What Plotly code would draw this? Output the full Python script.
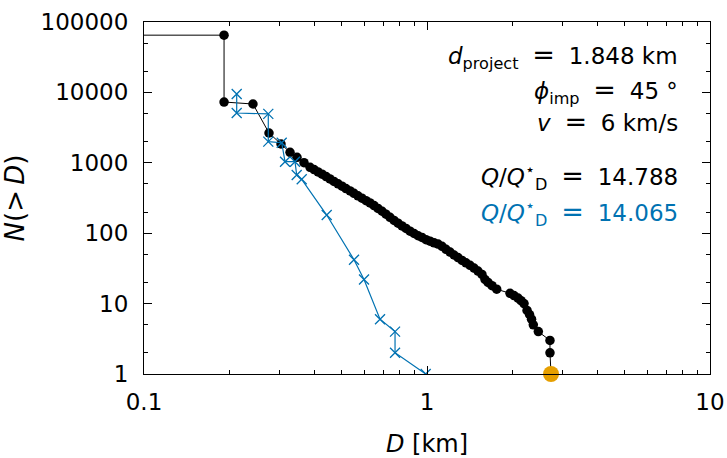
import plotly.graph_objects as go

# Cumulative size distribution N(>D) of the fragments, two runs
d_black = [0.08, 0.1918, 0.1918, 0.2427, 0.2765, 0.3049, 0.3281, 0.3472, 0.3676, 0.3861,
           0.399, 0.412, 0.426, 0.440, 0.454, 0.469, 0.485, 0.501, 0.517, 0.535,
           0.552, 0.570, 0.589, 0.609, 0.629, 0.650, 0.671, 0.694, 0.716, 0.740,
           0.765, 0.790, 0.816, 0.843, 0.871, 0.900, 0.930, 0.960, 0.992, 1.025,
           1.059, 1.094, 1.130, 1.167, 1.206, 1.246, 1.287, 1.330, 1.373, 1.419,
           1.466, 1.514, 1.564, 1.603, 1.643, 1.697, 1.763, 1.965, 2.030, 2.097,
           2.149, 2.202, 2.257, 2.303, 2.341, 2.375, 2.474, 2.720, 2.720, 2.743]
n_black = [65000, 65000, 7300, 6840, 2650, 1850, 1410, 1197, 1004, 863,
           801, 743, 689, 637, 589, 544, 503, 465, 430, 398,
           368, 340, 314, 290, 269, 247, 225, 205, 186, 168,
           152, 139, 127, 117, 107, 99, 92, 87, 81, 77,
           73, 70, 65, 59, 54, 49, 45, 41, 38, 35,
           32, 29, 26, 22, 20, 18, 16, 14, 13, 12,
           11, 10, 8, 7, 6, 5, 4, 3, 2, 1]

d_blue = [0.2126, 0.2126, 0.2749, 0.2749, 0.3066, 0.3150, 0.3416, 0.3464, 0.3608,
          0.4422, 0.5522, 0.5990, 0.6823, 0.7710, 0.7710, 0.9895]
n_blue = [9490, 5100, 4950, 2000, 1930, 1037, 1037, 671, 583,
          181, 42, 22, 6, 4, 2, 1]

# largest remnant
d_largest = [2.743]
n_largest = [1]

BLUE = "#0072B2"
ORANGE = "#E69F00"
FONT = "DejaVu Sans"
EQ = "\u2002\u200a<span style='font-size:27px'>=</span>\u2002\u200a"

fig = go.Figure()
fig.add_trace(go.Scatter(
    x=d_black, y=n_black, mode="lines+markers",
    line=dict(color="black", width=1),
    marker=dict(symbol="circle", size=9.5, color="black"),
    showlegend=False))
fig.add_trace(go.Scatter(
    x=d_blue, y=n_blue, mode="lines+markers",
    line=dict(color=BLUE, width=1.2),
    marker=dict(symbol="x-thin", size=10, line=dict(color=BLUE, width=1.3)),
    showlegend=False))
fig.add_trace(go.Scatter(
    x=d_largest, y=n_largest, mode="markers",
    marker=dict(symbol="circle", size=16, color=ORANGE),
    cliponaxis=False, showlegend=False))

axis_common = dict(
    type="log", showgrid=False, zeroline=False, automargin=False,
    showline=True, linecolor="black", linewidth=1, mirror="ticks",
    ticks="inside", ticklen=8, tickwidth=1, tickcolor="black",
    tickfont=dict(family=FONT, size=23, color="black"),
)

fig.update_xaxes(
    **axis_common, range=[-1, 1],
    tickvals=[0.1, 1, 10], ticktext=["0.1", "1", "10"],
    ticklabelstandoff=7,
    minor=dict(ticks="inside", ticklen=4, tickcolor="black", dtick="D1"),
    title=dict(text="<i>D</i> [km]", font=dict(family=FONT, size=24, color="black"), standoff=22),
)
fig.update_yaxes(
    **axis_common, range=[0, 5],
    tickvals=[1, 10, 100, 1000, 10000, 100000],
    ticktext=["1", "10", "100", "1000", "10000", "100000"],
    ticklabelstandoff=10,
    minor=dict(ticks="inside", ticklen=4, tickcolor="black", dtick="D2"),
    title=dict(text="<i>N</i>(&gt;\u2009<i>D</i>)", font=dict(family=FONT, size=26, color="black"), standoff=8),
)

labels = [
    ("<i>d</i><sub>project</sub>" + EQ + "1.848 km", 0.903, "black"),
    ("<i>ϕ</i><sub>imp</sub>" + EQ + "45 °", 0.805, "black"),
    ("<i>v</i>" + EQ + "6 km/s", 0.716, "black"),
    ("<i>Q</i>/<i>Q</i><sup>⋆</sup><sub>D</sub>" + EQ + "14.788", 0.559, "black"),
    ("<i>Q</i>/<i>Q</i><sup>⋆</sup><sub>D</sub>" + EQ + "14.065", 0.4575, BLUE),
]
for text, ypos, col in labels:
    fig.add_annotation(
        x=0.947, y=ypos, xref="paper", yref="paper",
        xanchor="right", yanchor="middle", showarrow=False,
        text=text, font=dict(family=FONT, size=23, color=col))

fig.update_layout(
    width=727, height=458,
    margin=dict(l=144, r=17, t=22, b=84),
    paper_bgcolor="white", plot_bgcolor="white",
)

fig.write_html("out.html")
